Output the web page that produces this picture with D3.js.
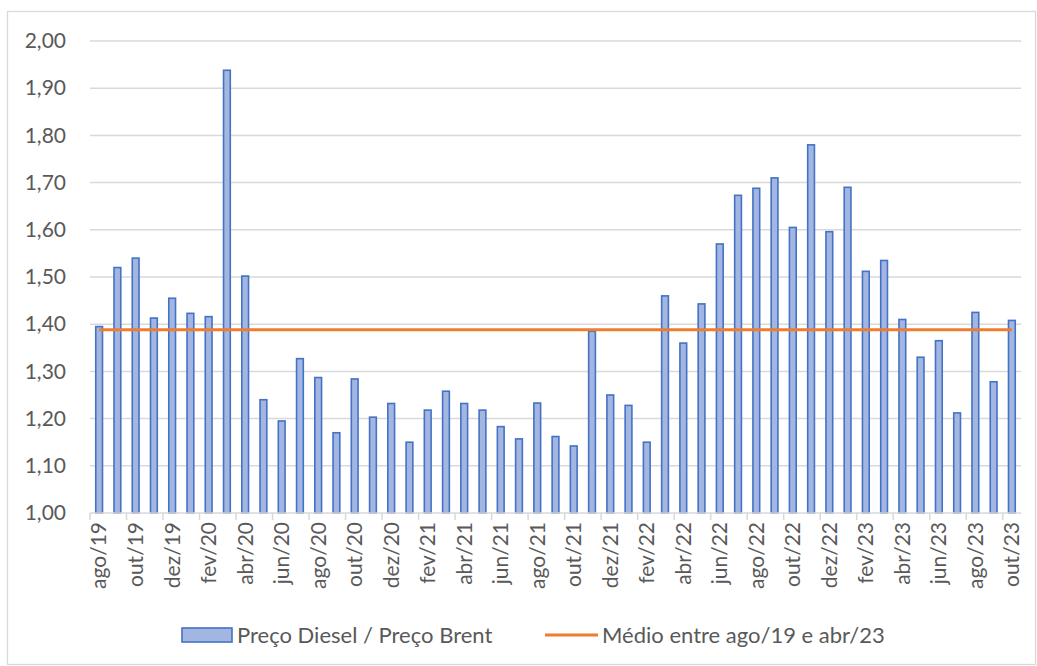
<!DOCTYPE html>
<html>
<head>
<meta charset="utf-8">
<script src="https://cdn.jsdelivr.net/npm/d3@7"></script>
<style>
  body { margin: 0; background: #fff; }
  svg text { font-family: Lato, "Noto Sans", sans-serif; fill: #595959; }
</style>
</head>
<body>
<svg id="chart"></svg>
<script>
// month labels, ago/19 .. out/23
const months = [
  'ago/19', 'set/19', 'out/19', 'nov/19', 'dez/19',
  'jan/20', 'fev/20', 'mar/20', 'abr/20', 'mai/20', 'jun/20', 'jul/20', 'ago/20', 'set/20', 'out/20', 'nov/20', 'dez/20',
  'jan/21', 'fev/21', 'mar/21', 'abr/21', 'mai/21', 'jun/21', 'jul/21', 'ago/21', 'set/21', 'out/21', 'nov/21', 'dez/21',
  'jan/22', 'fev/22', 'mar/22', 'abr/22', 'mai/22', 'jun/22', 'jul/22', 'ago/22', 'set/22', 'out/22', 'nov/22', 'dez/22',
  'jan/23', 'fev/23', 'mar/23', 'abr/23', 'mai/23', 'jun/23', 'jul/23', 'ago/23', 'set/23', 'out/23'
];

// Preço Diesel / Preço Brent
const ratio = [
  1.395, 1.520, 1.540, 1.413, 1.455,
  1.423, 1.416, 1.938, 1.502, 1.240, 1.195, 1.327, 1.287, 1.170, 1.284, 1.203, 1.232,
  1.150, 1.218, 1.258, 1.232, 1.218, 1.183, 1.157, 1.233, 1.162, 1.142, 1.385, 1.250,
  1.228, 1.150, 1.460, 1.360, 1.443, 1.570, 1.673, 1.688, 1.710, 1.605, 1.780, 1.596,
  1.690, 1.512, 1.535, 1.410, 1.330, 1.365, 1.212, 1.425, 1.278, 1.408
];

// Médio entre ago/19 e abr/23
const average = 1.388;

const yTicks = [1.0, 1.1, 1.2, 1.3, 1.4, 1.5, 1.6, 1.7, 1.8, 1.9, 2.0];

const width = 1037, height = 666;
const plot = { left: 90, right: 1021, top: 41, bottom: 513 };

const svg = d3.select('#chart')
  .attr('width', width)
  .attr('height', height);

// chart area border
svg.append('rect')
  .attr('x', 7.5).attr('y', 11.5)
  .attr('width', width - 9).attr('height', height - 13)
  .attr('fill', '#fff')
  .attr('stroke', '#d9d9d9')
  .attr('stroke-width', 1.3);

const x = d3.scaleBand()
  .domain(months)
  .range([plot.left, plot.right])
  .paddingInner(0.63)
  .paddingOuter(0.315);

const y = d3.scaleLinear()
  .domain([1.0, 2.0])
  .range([plot.bottom, plot.top]);

const fmt = d => d3.format('.2f')(d).replace('.', ',');

// gridlines
svg.append('g')
  .selectAll('line')
  .data(yTicks.slice(1))
  .enter()
  .append('line')
  .attr('x1', plot.left).attr('x2', plot.right)
  .attr('y1', d => y(d)).attr('y2', d => y(d))
  .attr('stroke', '#d9d9d9')
  .attr('stroke-width', 1.5);

// y axis labels
svg.append('g')
  .attr('transform', 'translate(' + (plot.left - 24) + ',0)')
  .call(d3.axisLeft(y).tickValues(yTicks).tickFormat(fmt).tickSize(0))
  .call(g => g.select('.domain').remove())
  .call(g => g.selectAll('text')
    .attr('x', 0)
    .style('font-size', '21px')
    .style('font-family', 'Lato, "Noto Sans", sans-serif')
    .attr('fill', '#595959'));

// bars
const bw = x.bandwidth();
svg.append('g')
  .selectAll('.bar')
  .data(months)
  .enter()
  .append('rect')
  .attr('class', 'bar')
  .attr('x', d => x(d))
  .attr('y', (d, i) => y(ratio[i]))
  .attr('width', bw)
  .attr('height', (d, i) => y(1.0) - y(ratio[i]))
  .attr('fill', '#a3b6e2')
  .attr('stroke', '#4472c4')
  .attr('stroke-width', 1.6);

// x axis line and boundary ticks (every second month)
const step = x.step();
const half = (step - bw) / 2;
const tickIdx = months.map((m, i) => i).filter(i => i % 2 === 0);

const xa = svg.append('g');
xa.append('line')
  .attr('x1', plot.left).attr('x2', plot.right)
  .attr('y1', plot.bottom).attr('y2', plot.bottom)
  .attr('stroke', '#d9d9d9')
  .attr('stroke-width', 1.5);
xa.selectAll('.tick')
  .data(tickIdx)
  .enter()
  .append('line')
  .attr('x1', i => x(months[i]) - half).attr('x2', i => x(months[i]) - half)
  .attr('y1', plot.bottom).attr('y2', plot.bottom + 7)
  .attr('stroke', '#d9d9d9')
  .attr('stroke-width', 1.5);
xa.selectAll('.lbl')
  .data(tickIdx)
  .enter()
  .append('text')
  .attr('transform', i => 'translate(' + (x(months[i]) + bw / 2) + ',' + (plot.bottom + 9) + ') rotate(-90)')
  .attr('text-anchor', 'end')
  .attr('dy', '0.35em')
  .style('font-size', '21px')
  .text(i => months[i]);

// average line
const line = d3.line()
  .x(d => x(d) + bw / 2)
  .y(() => y(average));
svg.append('path')
  .datum(months)
  .attr('d', line)
  .attr('fill', 'none')
  .attr('stroke', '#ed7d31')
  .attr('stroke-width', 3);

// legend
const lg = svg.append('g').attr('transform', 'translate(0,635)');
lg.append('rect')
  .attr('x', 182).attr('y', -7)
  .attr('width', 50).attr('height', 14)
  .attr('fill', '#a3b6e2')
  .attr('stroke', '#4472c4')
  .attr('stroke-width', 1.6);
lg.append('text')
  .attr('x', 237).attr('dy', '0.35em')
  .style('font-size', '22px')
  .text('Preço Diesel / Preço Brent');
lg.append('line')
  .attr('x1', 545).attr('x2', 598)
  .attr('stroke', '#ed7d31')
  .attr('stroke-width', 3);
lg.append('text')
  .attr('x', 602).attr('dy', '0.35em')
  .style('font-size', '22px')
  .text('Médio entre ago/19 e abr/23');
</script>
</body>
</html>
